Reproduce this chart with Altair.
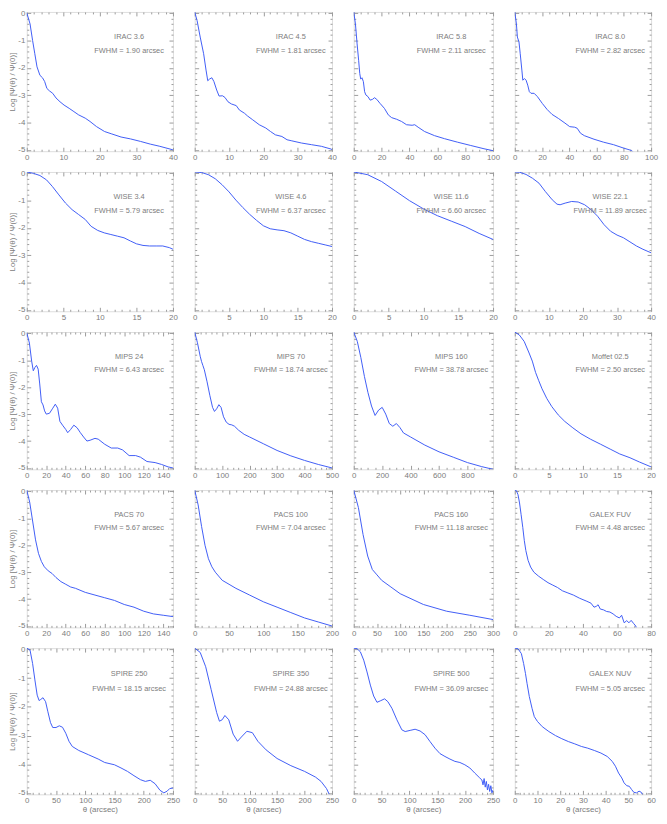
import altair as alt
import numpy as np
import pandas as pd

# ---------------- panel metadata ----------------
names = ["IRAC 3.6", "IRAC 4.5", "IRAC 5.8", "IRAC 8.0",
         "WISE 3.4", "WISE 4.6", "WISE 11.6", "WISE 22.1",
         "MIPS 24", "MIPS 70", "MIPS 160", "Moffet 02.5",
         "PACS 70", "PACS 100", "PACS 160", "GALEX FUV",
         "SPIRE 250", "SPIRE 350", "SPIRE 500", "GALEX NUV"]
fwhm = ["1.90", "1.81", "2.11", "2.82",
        "5.79", "6.37", "6.60", "11.89",
        "6.43", "18.74", "38.78", "2.50",
        "5.67", "7.04", "11.18", "4.48",
        "18.15", "24.88", "36.09", "5.05"]
x_max = [40, 40, 100, 100, 20, 20, 20, 40, 150, 500, 980, 20,
         150, 200, 300, 80, 250, 250, 250, 60]
x_step = [10, 10, 20, 20, 5, 5, 5, 10, 20, 100, 200, 5,
          20, 50, 50, 20, 50, 50, 50, 10]
x_minor = [2, 2, 5, 5, 1, 1, 1, 2, 5, 20, 50, 1,
           5, 10, 10, 5, 10, 10, 10, 2]
y_major = [-5, -4, -3, -2, -1, 0]

# ---------------- curves ----------------
irac36_x = [0, 0.9, 1.6, 2.2, 2.8, 3.6, 4.3, 4.9, 5.5, 6.2, 7.1, 8.0, 9.1, 10.2, 11.6, 12.9, 14.2, 16.0,
            17.3, 19.1, 21.3, 23.1, 25.8, 28.4, 31.1, 33.8, 36.4, 40.0]
irac36_y = [0.02, -0.39, -1.0, -1.48, -1.96, -2.27, -2.36, -2.5, -2.75, -2.84, -2.93, -3.1, -3.24, -3.36,
            -3.48, -3.6, -3.72, -3.84, -3.96, -4.15, -4.33, -4.41, -4.53, -4.6, -4.69, -4.79, -4.87, -5.0]

irac45_x = [0, 0.7, 1.6, 2.6, 3.3, 3.8, 4.3, 5.0, 5.6, 6.4, 7.1, 8.1, 8.8, 9.7, 10.7, 12.1, 13.0, 14.5,
            15.4, 16.9, 18.8, 20.7, 22.1, 23.5, 25.4, 26.9, 28.3, 31.1, 34.0, 36.9, 39.7, 40]
irac45_y = [0.05, -0.27, -0.87, -1.48, -2.08, -2.47, -2.41, -2.36, -2.5, -2.81, -3.03, -3.02, -3.08, -3.24,
            -3.32, -3.38, -3.54, -3.66, -3.76, -3.9, -4.08, -4.2, -4.33, -4.45, -4.51, -4.63, -4.67, -4.75,
            -4.81, -4.87, -4.97, -4.99]

irac58_x = [0, 1.2, 2.4, 3.5, 4.3, 5.0, 5.9, 6.9, 7.8, 8.7, 10.2, 11.8, 13.5, 14.9, 16.5, 18.9, 22.0, 24.8,
            27.2, 30.8, 34.3, 37.9, 41.9, 43.8, 46.2, 50.9, 58.0, 65.1, 74.6, 84.0, 93.5, 100]
irac58_y = [0.05, -0.39, -1.12, -1.72, -2.2, -2.41, -2.36, -2.5, -2.87, -2.99, -3.05, -3.18, -3.15, -3.09,
            -3.15, -3.3, -3.48, -3.72, -3.82, -3.88, -3.96, -4.08, -4.1, -4.08, -4.17, -4.33, -4.48, -4.59,
            -4.72, -4.84, -4.96, -5.03]

irac80_x = [0, 1.2, 1.9, 3.1, 4.0, 5.2, 5.9, 7.1, 8.3, 9.5, 10.7, 11.9, 14.2, 16.6, 20.2, 23.7, 27.3, 32.0,
            36.8, 40.3, 43.9, 45.8, 48.2, 51.0, 58.1, 65.2, 72.4, 79.5, 85.4, 87]
irac80_y = [0.05, -0.39, -0.87, -1.05, -1.48, -2.08, -2.45, -2.39, -2.45, -2.63, -2.87, -2.93, -2.93, -3.05,
            -3.3, -3.52, -3.7, -3.85, -4.02, -4.15, -4.17, -4.21, -4.39, -4.48, -4.61, -4.72, -4.81, -4.93,
            -5.02, -5.08]

wise34_x = [0, 0.9, 1.8, 2.7, 3.5, 4.4, 5.3, 6.2, 7.1, 8.0, 8.8, 9.7, 10.6, 11.5, 12.4, 13.3, 14.2, 15.0,
            15.9, 16.8, 17.7, 18.6, 19.5, 20]
wise34_y = [0.05, 0.0, -0.08, -0.24, -0.48, -0.79, -1.09, -1.33, -1.51, -1.69, -1.94, -2.09, -2.18, -2.24,
            -2.3, -2.36, -2.48, -2.58, -2.64, -2.66, -2.66, -2.66, -2.72, -2.78]

wise46_x = [0, 1, 2, 3, 4, 5, 6, 7, 8, 9, 10, 11, 12, 13, 14, 15, 16, 17, 18, 19, 20]
wise46_y = [0.05, 0.03, -0.05, -0.2, -0.42, -0.68, -0.98, -1.25, -1.5, -1.72, -1.92, -2.03, -2.07, -2.1,
            -2.18, -2.3, -2.42, -2.5, -2.56, -2.62, -2.68]

wise116_x = [0, 2, 4, 6, 8, 10, 12, 14, 16, 18, 20]
wise116_y = [0.05, -0.05, -0.3, -0.65, -1.0, -1.3, -1.55, -1.75, -1.95, -2.2, -2.42]

wise221_x = [0, 1.4, 3.3, 5.2, 7.1, 9.0, 11.0, 12.4, 13.3, 14.8, 16.7, 18.6, 20.5, 22.4, 24.3, 26.2, 28.1,
             30.0, 31.9, 33.8, 35.7, 37.6, 40]
wise221_y = [0.05, 0.04, -0.04, -0.18, -0.36, -0.67, -0.97, -1.13, -1.15, -1.09, -1.03, -1.05, -1.15, -1.33,
             -1.57, -1.88, -2.12, -2.26, -2.36, -2.51, -2.66, -2.78, -2.91]

mips24_x = [0, 2.7, 5.0, 6.7, 8.3, 10.0, 11.7, 13.3, 15.0, 16.7, 18.3, 20.0, 23.3, 26.7, 29.3, 31.7, 34.0,
            36.7, 40.0, 42.0, 45.0, 48.3, 51.7, 55.0, 58.3, 61.7, 65.0, 70.0, 73.3, 80.0, 86.7, 93.3, 98.3,
            105.0, 111.7, 116.7, 123.3, 131.7, 138.3, 145.0, 150]
mips24_y = [0.02, -0.36, -1.03, -1.39, -1.27, -1.19, -1.33, -1.88, -2.54, -2.66, -2.88, -3.0, -2.97, -2.78,
            -2.63, -2.78, -3.27, -3.41, -3.57, -3.69, -3.57, -3.41, -3.51, -3.69, -3.85, -4.0, -3.97, -3.9,
            -3.93, -4.12, -4.26, -4.26, -4.33, -4.54, -4.54, -4.6, -4.76, -4.8, -4.87, -4.96, -5.0]

mips70_x = [0, 10, 20, 25, 30, 35, 45, 55, 65, 72, 80, 88, 96, 105, 115, 125, 135, 145, 160, 180, 200, 250,
            300, 350, 400, 450, 500]
mips70_y = [0.05, -0.35, -0.85, -1.05, -1.2, -1.35, -1.8, -2.3, -2.75, -2.9, -2.8, -2.65, -2.75, -3.1,
            -3.3, -3.38, -3.4, -3.45, -3.6, -3.75, -3.85, -4.1, -4.35, -4.55, -4.72, -4.87, -5.0]

mips160_x = [0, 25, 50, 75, 100, 125, 150, 175, 200, 225, 250, 275, 300, 325, 350, 400, 500, 600, 700, 800,
             900, 980]
mips160_y = [0.05, -0.3, -0.9, -1.6, -2.2, -2.7, -3.05, -2.85, -2.75, -3.0, -3.35, -3.45, -3.35, -3.5, -3.7,
             -3.85, -4.15, -4.4, -4.6, -4.8, -4.95, -5.05]

moffat_x = [0, 0.67, 1.38, 2.1, 2.57, 3.05, 3.52, 4.0, 4.7, 5.43, 6.38, 7.33, 8.52, 9.71, 11.1, 12.6, 14.0,
            15.4, 16.9, 18.3, 20]
moffat_y = [0.05, -0.06, -0.3, -0.73, -1.03, -1.45, -1.76, -2.06, -2.42, -2.72, -3.03, -3.27, -3.51, -3.73,
            -3.93, -4.12, -4.3, -4.48, -4.62, -4.78, -4.96]

pacs70_x = [0, 3, 6, 9, 12, 15, 18, 22, 26, 30, 35, 40, 45, 50, 60, 70, 80, 90, 100, 110, 120, 130, 140, 150]
pacs70_y = [0.05, -0.4, -1.1, -1.8, -2.3, -2.6, -2.8, -2.95, -3.05, -3.2, -3.35, -3.45, -3.55, -3.6, -3.75,
            -3.85, -3.95, -4.05, -4.2, -4.3, -4.45, -4.55, -4.6, -4.65]

pacs100_x = [0, 5, 10, 15, 20, 25, 30, 40, 50, 60, 80, 100, 120, 140, 160, 180, 200]
pacs100_y = [0.05, -0.5, -1.3, -2.0, -2.5, -2.8, -3.0, -3.3, -3.45, -3.6, -3.85, -4.1, -4.3, -4.5, -4.7,
             -4.85, -5.0]

pacs160_x = [0, 10, 20, 30, 40, 50, 60, 80, 100, 150, 200, 250, 300]
pacs160_y = [0.05, -0.6, -1.6, -2.4, -2.9, -3.1, -3.3, -3.55, -3.8, -4.2, -4.45, -4.6, -4.76]

fuv_x = [0, 0.9, 1.9, 2.8, 3.7, 4.7, 5.6, 6.5, 7.8, 9.3, 11.2, 14.0, 16.7, 19.5, 22.3, 25.1, 27.9, 30.7,
         34.4, 38.1, 41.9, 44.7, 46.5, 47.8, 48.9, 50.2, 52.1, 53.9, 55.8, 57.7, 59.5, 61.4, 62.7, 64.2,
         65.7, 67.0, 68.3, 69.8, 71.0, 71.6]
fuv_y = [0.05, 0.03, -0.12, -0.43, -0.85, -1.34, -1.83, -2.2, -2.56, -2.81, -3.0, -3.15, -3.27, -3.39, -3.48,
         -3.57, -3.69, -3.76, -3.85, -3.97, -4.07, -4.15, -4.3, -4.27, -4.21, -4.37, -4.4, -4.46, -4.48,
         -4.55, -4.64, -4.7, -4.6, -4.88, -4.8, -4.88, -4.79, -4.91, -5.0, -5.1]

spire250_x = [0, 5.6, 10.0, 13.9, 17.8, 21.1, 23.9, 27.8, 32.2, 36.1, 40.6, 44.4, 50.0, 55.6, 61.1, 66.7,
              72.2, 77.8, 88.9, 105.6, 122.2, 133.3, 150.0, 161.1, 172.2, 183.3, 194.4, 202.8, 211.1,
              219.4, 227.8, 234.4, 240.0, 244.4, 250]
spire250_y = [0.05, -0.02, -0.49, -1.06, -1.59, -1.78, -1.74, -1.68, -1.82, -2.17, -2.55, -2.72, -2.72,
              -2.66, -2.71, -2.92, -3.2, -3.38, -3.52, -3.67, -3.82, -3.94, -4.02, -4.13, -4.25, -4.4,
              -4.54, -4.6, -4.56, -4.68, -4.91, -5.0, -4.94, -4.85, -4.83]

spire350_x = [0, 10, 20, 30, 40, 45, 50, 55, 62, 70, 78, 85, 95, 105, 115, 130, 150, 175, 200, 220, 230,
              240, 245]
spire350_y = [0.05, -0.1, -0.6, -1.4, -2.2, -2.5, -2.45, -2.3, -2.45, -2.95, -3.2, -3.05, -2.85, -2.9,
              -3.2, -3.5, -3.8, -4.05, -4.25, -4.45, -4.6, -4.85, -5.05]

spire500_x = [0, 6, 11.9, 17.9, 23.8, 29.8, 35.7, 41.7, 47.6, 55.4, 61.3, 68.5, 77.4, 86.3, 92.3, 101.2,
              110.1, 119.0, 128.0, 136.9, 145.8, 154.8, 163.7, 172.6, 181.5, 190.5, 199.4, 208.3, 217.3,
              226.2, 230, 232, 234, 236, 238, 240, 242, 244, 246, 248, 250]
spire500_y = [0.05, 0.03, -0.08, -0.37, -0.78, -1.24, -1.62, -1.84, -1.79, -1.72, -1.82, -2.05, -2.45,
              -2.8, -2.86, -2.82, -2.78, -2.84, -2.97, -3.21, -3.44, -3.63, -3.73, -3.82, -3.9, -3.94,
              -4.02, -4.13, -4.31, -4.48, -4.55, -4.72, -4.5, -4.8, -4.6, -4.9, -4.7, -4.95, -4.75, -5.0,
              -4.9]

nuv_x = [0, 1.4, 2.9, 3.9, 4.7, 5.4, 6.4, 7.6, 8.6, 10.0, 12.1, 15.0, 17.9, 20.7, 23.6, 26.4, 29.3, 32.1,
         35.0, 37.9, 40.7, 42.9, 44.3, 45.7, 47.1, 48.1, 49.3, 50.4, 51.4, 52.4, 53.6, 54.7, 55.7, 56.4]
nuv_y = [0.05, 0.03, -0.14, -0.49, -0.83, -1.18, -1.64, -2.05, -2.34, -2.51, -2.69, -2.86, -3.0, -3.11,
         -3.21, -3.29, -3.38, -3.44, -3.52, -3.61, -3.73, -3.9, -4.07, -4.31, -4.48, -4.65, -4.75, -4.77,
         -4.88, -4.98, -5.0, -4.94, -4.98, -5.1]

curve_x = [irac36_x, irac45_x, irac58_x, irac80_x, wise34_x, wise46_x, wise116_x, wise221_x,
           mips24_x, mips70_x, mips160_x, moffat_x, pacs70_x, pacs100_x, pacs160_x, fuv_x,
           spire250_x, spire350_x, spire500_x, nuv_x]
curve_y = [irac36_y, irac45_y, irac58_y, irac80_y, wise34_y, wise46_y, wise116_y, wise221_y,
           mips24_y, mips70_y, mips160_y, moffat_y, pacs70_y, pacs100_y, pacs160_y, fuv_y,
           spire250_y, spire350_y, spire500_y, nuv_y]

# ---------------- style ----------------
BLUE = "#3f5cf6"
AXC = "#9a9a9a"
TXT = "#7c7c7c"
FONT = "Liberation Sans"
COL_W = [148, 139, 141, 138]
ROW_H = [141, 141, 139, 139, 148]
Y_LO, Y_HI = -5.05, 0.05
MAJ, MIN = 4, 2


def grid_vals(lo, hi, step):
    n = int(np.floor((hi - lo) / step + 1e-9))
    return [round(lo + k * step, 6) for k in range(n + 1)]


def axis(orient, vals, size, labels=False, title=None):
    kw = dict(orient=orient, values=vals, tickSize=size, offset=-size, domain=False, grid=False,
              tickColor=AXC, tickWidth=1, labels=labels, title=title, minExtent=0)
    if labels:
        kw.update(labelFlush=False, labelOverlap=False, labelPadding=2, labelColor=TXT,
                  labelFontSize=8, labelFont=FONT, labelExpr="'' + datum.value")
    if title:
        kw.update(titleColor=TXT, titleFont=FONT, titleFontSize=8, titleFontWeight="normal",
                  titlePadding=1)
    return alt.Axis(**kw)


def panel(i):
    r, c = divmod(i, 4)
    w, h = COL_W[c], ROW_H[r]
    df = pd.DataFrame({"x": curve_x[i], "y": curve_y[i]})
    xs = alt.Scale(domain=[0, x_max[i]], nice=False, zero=False)
    ys = alt.Scale(domain=[Y_LO, Y_HI], nice=False, zero=False)
    xmaj = grid_vals(0, x_max[i], x_step[i])
    xmin = [v for v in grid_vals(0, x_max[i], x_minor[i]) if v not in xmaj]
    ymin = [v for v in grid_vals(-5, 0, 0.2) if v not in y_major]

    xtitle = "θ (arcsec)" if r == 4 else None
    ytitle = "Log [Ψ(θ) / Ψ(0)]" if c == 0 else None

    base = alt.Chart(df)
    l1 = base.mark_line(color=BLUE, strokeWidth=1, clip=True).encode(
        x=alt.X("x:Q", scale=xs, axis=axis("bottom", xmaj, MAJ, True, xtitle)),
        y=alt.Y("y:Q", scale=ys, axis=axis("left", y_major, MAJ, c == 0, ytitle)))
    l2 = base.mark_line(strokeOpacity=0, clip=True).encode(
        x=alt.X("x:Q", scale=xs, axis=axis("bottom", xmin, MIN)),
        y=alt.Y("y:Q", scale=ys, axis=axis("left", ymin, MIN)))
    l3 = base.mark_line(strokeOpacity=0, clip=True).encode(
        x=alt.X("x:Q", scale=xs, axis=axis("top", xmaj, MAJ)),
        y=alt.Y("y:Q", scale=ys, axis=axis("right", y_major, MAJ)))
    l4 = base.mark_line(strokeOpacity=0, clip=True).encode(
        x=alt.X("x:Q", scale=xs, axis=axis("top", xmin, MIN)),
        y=alt.Y("y:Q", scale=ys, axis=axis("right", ymin, MIN)))
    lab = pd.DataFrame({"t": [names[i]], "f": ["FWHM = " + fwhm[i] + " arcsec"]})
    t1 = alt.Chart(lab).mark_text(font=FONT, fontSize=7.5, color=TXT, baseline="middle").encode(
        text="t:N", x=alt.value(0.70 * w), y=alt.value(0.18 * h))
    t2 = alt.Chart(lab).mark_text(font=FONT, fontSize=7.5, color=TXT, baseline="middle").encode(
        text="f:N", x=alt.value(0.70 * w), y=alt.value(0.28 * h))
    return alt.layer(l1, l2, l3, l4, t1, t2).resolve_axis(
        x="independent", y="independent").properties(width=w, height=h)


panels = [panel(i) for i in range(len(names))]

chart = alt.concat(*panels, columns=4, spacing={"row": 21, "column": 22}, bounds="flush").properties(
    padding={"left": 0, "top": -5, "right": 0, "bottom": 0}
).configure_view(stroke=AXC, strokeWidth=1).configure(font=FONT)

chart.save("out.html", embed_options={"renderer": "svg", "actions": False})
